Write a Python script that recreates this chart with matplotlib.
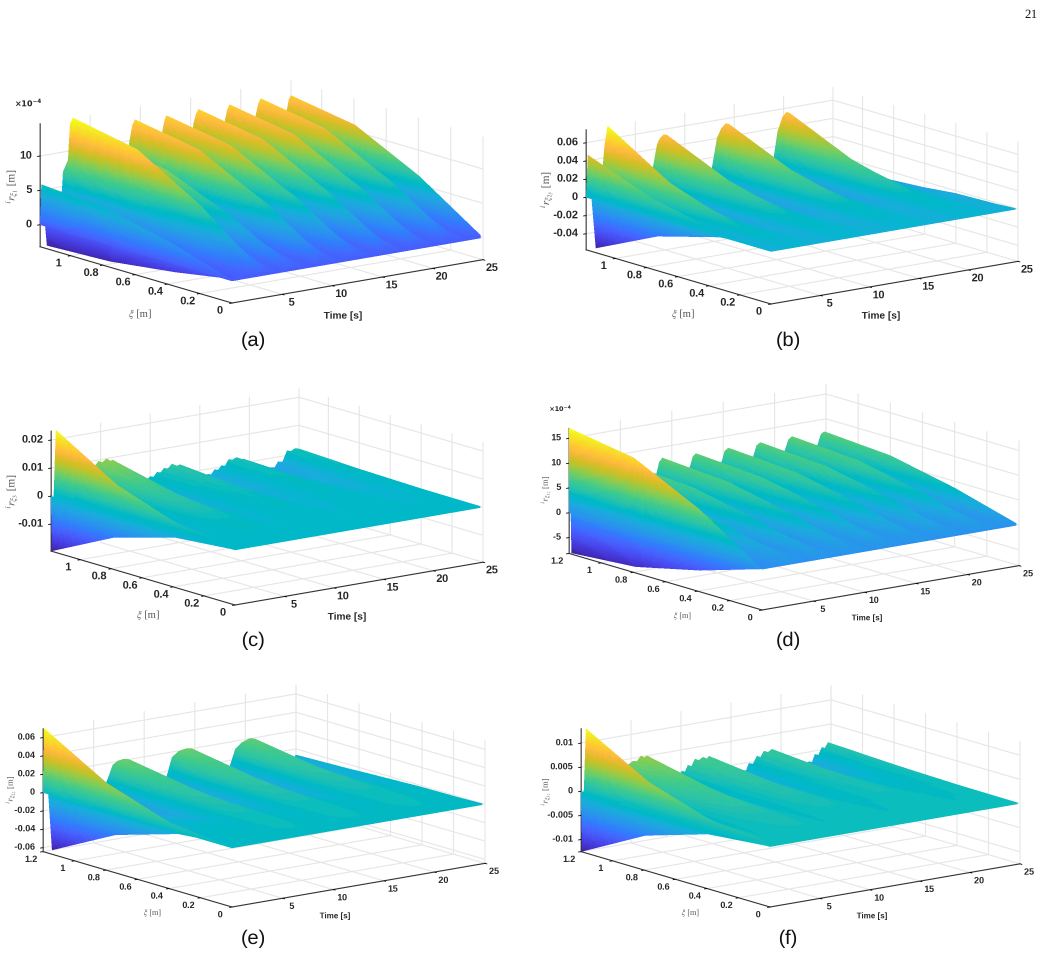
import numpy as np
import matplotlib
matplotlib.use("Agg")
import matplotlib.pyplot as plt
from matplotlib.colors import ListedColormap
from mpl_toolkits.mplot3d import proj3d

W, H = 1042, 965
OVERSAMPLE = 3
plt.rcParams["font.family"] = ["Liberation Sans", "DejaVu Sans"]
plt.rcParams["mathtext.fontset"] = "stix"

PARULA = ListedColormap([
    (0.2422, 0.1504, 0.6603), (0.2504, 0.1650, 0.7076), (0.2578, 0.1818, 0.7511), (0.2647, 0.1978, 0.7952),
    (0.2706, 0.2147, 0.8364), (0.2751, 0.2342, 0.8710), (0.2783, 0.2559, 0.8991), (0.2803, 0.2782, 0.9221),
    (0.2813, 0.3006, 0.9414), (0.2810, 0.3228, 0.9579), (0.2795, 0.3447, 0.9717), (0.2760, 0.3667, 0.9829),
    (0.2699, 0.3892, 0.9906), (0.2602, 0.4123, 0.9952), (0.2440, 0.4358, 0.9988), (0.2206, 0.4603, 0.9973),
    (0.1963, 0.4847, 0.9892), (0.1834, 0.5074, 0.9798), (0.1786, 0.5289, 0.9682), (0.1764, 0.5499, 0.9520),
    (0.1687, 0.5703, 0.9359), (0.1540, 0.5902, 0.9218), (0.1460, 0.6091, 0.9079), (0.1380, 0.6276, 0.8973),
    (0.1248, 0.6459, 0.8883), (0.1113, 0.6635, 0.8763), (0.0952, 0.6798, 0.8598), (0.0689, 0.6948, 0.8394),
    (0.0297, 0.7082, 0.8163), (0.0036, 0.7203, 0.7917), (0.0067, 0.7312, 0.7660), (0.0433, 0.7411, 0.7394),
    (0.0964, 0.7500, 0.7120), (0.1408, 0.7584, 0.6842), (0.1717, 0.7670, 0.6554), (0.1938, 0.7758, 0.6251),
    (0.2161, 0.7843, 0.5923), (0.2470, 0.7918, 0.5567), (0.2906, 0.7973, 0.5188), (0.3406, 0.8008, 0.4789),
    (0.3909, 0.8029, 0.4354), (0.4456, 0.8024, 0.3909), (0.5044, 0.7993, 0.3480), (0.5616, 0.7942, 0.3045),
    (0.6174, 0.7876, 0.2612), (0.6720, 0.7793, 0.2227), (0.7242, 0.7698, 0.1910), (0.7738, 0.7598, 0.1646),
    (0.8203, 0.7498, 0.1535), (0.8634, 0.7406, 0.1596), (0.9035, 0.7330, 0.1774), (0.9393, 0.7288, 0.2100),
    (0.9728, 0.7298, 0.2394), (0.9956, 0.7434, 0.2371), (0.9970, 0.7659, 0.2199), (0.9952, 0.7861, 0.1967),
    (0.9892, 0.8136, 0.1816), (0.9786, 0.8386, 0.1717), (0.9676, 0.8639, 0.1642), (0.9610, 0.8890, 0.1537),
    (0.9597, 0.9135, 0.1423), (0.9628, 0.9373, 0.1265), (0.9691, 0.9606, 0.1064), (0.9769, 0.9839, 0.0805)],
    name="parula")

# Tip deflection against time for each panel (panels a and d in units of 1e-4 m)
time_a = [0, .15, .7, 1.5, 2.2, 2.3, 2.8, 3.0, 3.3, 5.2, 5.7, 6.2, 8.2, 8.9, 9.2, 9.46, 9.8, 11.4, 12.2, 12.4, 12.6, 12.9,
          14.6, 15.3, 15.55, 15.8, 16.1, 17.7, 18.4, 18.65, 18.9, 19.2, 20.8, 21.5, 21.75, 22.0, 22.3, 23.9, 24.6, 24.8, 25]
tip_a = [0, 5.8, -3.2, 0, 4.4, 7.1, 8.7, 13.9, 14.7, 1, 8, 10.5, 1, 9.7, 12.1, 12.9, 12.2, 1, 10.5, 12, 12.7, 12,
         1, 10.9, 12.2, 12.8, 12.1, 1, 10.3, 12, 12.7, 12, 1, 10.5, 12.1, 12.8, 12.1, 1, 10.5, 12, 12.5]

time_b = [0, .2, 1.0, 1.7, 1.9, 2.2, 5.8, 6.8, 7.2, 7.5, 7.9, 8.2, 11.8, 12.75, 13.26, 13.7, 14.17, 14.5,
          18.1, 19, 19.4, 19.9, 20.3, 20.6, 24, 25]
tip_b = [0, .046, -.0576, .030, .0546, .0743, -.04, .021, .0446, .051, .0542, .053, -.04, .0079, .04, .050, .0547, .053,
         -.04, .0073, .036, .051, .0556, .054, -.03, -.02]

time_c = [0, .1, .5, 2, 3.5, 4.2, 4.8, 5.2, 5.6, 5.9, 6.2, 8.5, 10, 10.35, 10.7, 11.05, 11.4, 11.8, 12.2, 12.6, 13,
          15, 15.8, 16.15, 16.5, 16.85, 17.2, 17.55, 17.9, 18.3, 18.7, 19.05, 19.4,
          21.4, 22.2, 22.55, 22.9, 23.35, 23.8, 24.2, 24.6, 25]
tip_c = [0, -.0196, .0232, -.004, .002, .007, .0095, .0088, .0099, .0085, .0091, -.004,
         .0009, .0005, .002, .0016, .003, .0026, .004, .0028, .0033,
         -.004, -.0018, -.0022, -.0006, -.001, .0004, .0, .0021, .0018, .0024, .0012, .0014,
         -.004, -.0033, -.0036, -.0017, -.002, .0017, .0012, .002, .0016]

time_d = [0, .03, .25, 1.5, 2.6, 3.0, 5.0, 5.6, 6.0, 8.0, 8.53, 8.79, 9.1, 9.4, 11.2, 11.77, 12.05, 12.35, 12.65,
          14.3, 14.85, 15.15, 15.5, 15.8, 17.3, 17.9, 18.25, 18.6, 18.9, 20.4, 21, 21.35, 21.7, 22, 23.6, 24.15, 24.5, 24.8, 25]
tip_d = [0, 17, -8.2, -2, 5, 7.5, 0, 5, 7.5, 0, 4.9, 7.1, 7.8, 7.4, 0, 5, 7, 7.5, 7.2,
         0, 4.9, 7, 7.5, 7.2, 0, 4.7, 7, 7.5, 7.2, 0, 5, 7.1, 7.6, 7.3, 0, 4.8, 7, 7.45, 7.3]

time_e = [0, .1, .9, 3, 5.4, 6.3, 6.9, 7.4, 8, 8.5, 11.2, 12.15, 12.75, 13.4, 14.2, 14.7, 17.4, 18.4, 19, 19.7, 20.4, 20.9, 24, 25]
tip_e = [0, .0698, -.0643, -.02, -.03, -.0003, .017, .0205, .0214, .020, -.03, -.0087, .0142, .0195, .0212, .020,
         -.03, -.0087, .011, .0175, .020, .019, -.02, -.0065]

time_f = [0, .1, .5, 2, 3.5, 4.5, 5.2, 5.6, 6.0, 6.3, 6.6, 9, 10.1, 10.4, 10.7, 11.05, 11.4, 11.8, 12.2, 12.5, 12.8,
          15.2, 16.2, 16.5, 16.8, 17.2, 17.6, 17.95, 18.3, 18.7, 19.1,
          21.8, 22.8, 23.1, 23.4, 23.75, 24.1, 24.4, 24.7, 25]
tip_f = [0, -.0125, .0128, -.003, .001, .0035, .0044, .0042, .0052, .0046, .005, -.003,
         .0006, .0003, .0016, .0012, .0026, .0022, .0027, .002, .0027,
         -.003, -.0014, -.0017, -.0002, -.0005, .001, .0006, .0018, .0014, .0019,
         -.003, -.002, -.0023, -.0007, -.001, .0005, .0002, .0013, .001]

# Fraction of the tip deflection reached at each element node along the beam
shape_stiff = [0, .50, .875, 1]
shape_soft = [0, .10, .43, 1]

# Tick values and labels
time_ticks = [5, 10, 15, 20, 25]
xi_ticks_short = [0, .2, .4, .6, .8, 1]
xi_ticks_long = [0, .2, .4, .6, .8, 1, 1.2]
xi_labels_long = ["0", "0.2", "0.4", "0.6", "0.8", "1", "1.2"]

panels = [
    dict(tag="(a)", t=time_a, q=tip_a, shape=shape_stiff, ximax=1.19, zlim=(-3.2, 14.7), end=None,
         zticks=[0, 5, 10], zlabels=["0", "5", "10"], xiticks=xi_ticks_short, xilabels=xi_labels_long[:6],
         corners=((40, 247), (232, 303), (483, 260), 123), fs=7.9, fs_t=7.3, fs_xi=7.6, fs_z=8.2,
         zlab=r"${}^{i}r_{\xi_{1}}$ [m]", zpos=(12, 187), xipos=(140, 314), tpos=(343, 316), tagpos=(253, 341),
         exp=(28, 104), fs_exp=5.7),
    dict(tag="(b)", t=time_b, q=tip_b, shape=shape_soft, ximax=1.19, zlim=(-.0576, .0743), end=-.013,
         zticks=[-.04, -.02, 0, .02, .04, .06], zlabels=["-0.04", "-0.02", "0", "0.02", "0.04", "0.06"],
         xiticks=xi_ticks_short, xilabels=xi_labels_long[:6],
         corners=((586, 248), (771, 304), (1018, 262), 120), fs=7.9, fs_t=7.3, fs_xi=7.6, fs_z=8.2,
         zlab=r"${}^{i}r_{\xi_{2y}}$ [m]", zpos=(547, 190), xipos=(683, 314), tpos=(881, 316), tagpos=(788, 341),
         exp=None),
    dict(tag="(c)", t=time_c, q=tip_c, shape=shape_soft, ximax=1.19, zlim=(-.0196, .0232), end=None,
         zticks=[-.01, 0, .01, .02], zlabels=["-0.01", "0", "0.01", "0.02"],
         xiticks=xi_ticks_short, xilabels=xi_labels_long[:6],
         corners=((51, 549), (235, 605), (483, 562), 120), fs=7.9, fs_t=7.3, fs_xi=7.6, fs_z=8.2,
         zlab=r"${}^{i}r_{\xi_{3}}$ [m]", zpos=(12, 492), xipos=(148, 615), tpos=(347, 617), tagpos=(253, 641),
         exp=None),
    dict(tag="(d)", t=time_d, q=tip_d, shape=shape_stiff, ximax=1.2, zlim=(-8.2, 17), end=None,
         zticks=[-5, 0, 5, 10, 15], zlabels=["-5", "0", "5", "10", "15"],
         xiticks=xi_ticks_long, xilabels=xi_labels_long,
         corners=((569, 552), (762, 610), (1019, 564), 125), fs=6.5, fs_t=5.8, fs_xi=5.9, fs_z=6.2,
         zlab=r"${}^{i}r_{\xi_{1z}}$ [m]", zpos=(546, 490), xipos=(682, 616), tpos=(867, 618), tagpos=(788, 641),
         exp=(560, 409), fs_exp=4.7),
    dict(tag="(e)", t=time_e, q=tip_e, shape=shape_soft, ximax=1.2, zlim=(-.0643, .0698), end=-.0065,
         zticks=[-.06, -.04, -.02, 0, .02, .04, .06],
         zlabels=["-0.06", "-0.04", "-0.02", "0", "0.02", "0.04", "0.06"],
         xiticks=xi_ticks_long, xilabels=xi_labels_long,
         corners=((43, 850), (232, 907), (485, 862), 123), fs=6.5, fs_t=5.8, fs_xi=5.9, fs_z=6.2,
         zlab=r"${}^{i}r_{\xi_{2z}}$ [m]", zpos=(11, 790), xipos=(152, 913), tpos=(335, 916), tagpos=(253, 939),
         exp=None),
    dict(tag="(f)", t=time_f, q=tip_f, shape=shape_soft, ximax=1.2, zlim=(-.0125, .013), end=None,
         zticks=[-.01, -.005, 0, .005, .01], zlabels=["-0.01", "-0.005", "0", "0.005", "0.01"],
         xiticks=xi_ticks_long, xilabels=xi_labels_long,
         corners=((581, 851), (770, 907), (1020, 863), 123), fs=6.5, fs_t=5.8, fs_xi=5.9, fs_z=6.2,
         zlab=r"${}^{i}r_{\xi_{3z}}$ [m]", zpos=(546, 792), xipos=(690, 913), tpos=(872, 916), tagpos=(788, 939),
         exp=None),
]

ELEV, AZIM = 13, -127.5
GRID = (0.9, 0.9, 0.9, 1)
INK = (0.2, 0.2, 0.2, 1)
LABEL_GREY = "#555555"


def mesh_for(p):
    """Subdivide the read curve so the z-coloured faces vary smoothly."""
    t = np.asarray(p["t"], float)
    q = np.asarray(p["q"], float)
    span = p["zlim"][1] - p["zlim"][0]
    cols = [t[:1]]
    for i in range(len(t) - 1):
        n = int(np.ceil(abs(q[i + 1] - q[i]) / span * 50)) + 2
        cols.append(np.linspace(t[i], t[i + 1], n + 1)[1:])
    t_mesh = np.concatenate(cols)
    q_mesh = np.interp(t_mesh, t, q)
    nodes = np.linspace(0, p["ximax"], len(p["shape"]))
    xi_mesh = np.linspace(0, p["ximax"], 73)
    s = np.interp(xi_mesh, nodes, p["shape"])
    z = np.outer(s, q_mesh)
    if p["end"] is not None:
        z[:, -1] = p["end"] * xi_mesh / p["ximax"]
    T, XI = np.meshgrid(t_mesh, xi_mesh)
    # far corner first, so the faces can be painted in grid order
    return T[::-1, ::-1], XI[::-1, ::-1], z[::-1, ::-1]


def place(ax, p):
    """Size the 3-D box and move the axes so the floor corners land where wanted."""
    left, front, right, zh = p["corners"]
    ca, sa = np.cos(np.radians(37.5)), np.sin(np.radians(37.5))
    box = ((right[0] - front[0]) / ca, (front[0] - left[0]) / sa, zh / np.cos(np.radians(ELEV)))
    ax.set_box_aspect(box)
    M = ax.get_proj()
    z0 = p["zlim"][0]
    x_f, y_f, _ = proj3d.proj_transform(0, 0, z0, M)
    x_r, _, _ = proj3d.proj_transform(25, 0, z0, M)
    x0, x1 = ax.viewLim.intervalx
    y0, y1 = ax.viewLim.intervaly
    S = (right[0] - front[0]) / ((x_r - x_f) / (x1 - x0))
    px_left = front[0] - (x_f - x0) / (x1 - x0) * S
    px_bottom = (H - front[1]) - (y_f - y0) / (y1 - y0) * S
    ax.set_position([px_left / W, px_bottom / H, S / W, S / H])


fig = plt.figure(figsize=(W / 100, H / 100), dpi=100, facecolor="white")

for p in panels:
    ax = fig.add_axes([0, 0, 1, 1], projection="3d", proj_type="ortho")
    ax.patch.set_alpha(0)
    ax.view_init(elev=ELEV, azim=AZIM)
    ax.set_xlim(0, 25, view_margin=0)
    ax.set_ylim(0, p["ximax"], view_margin=0)
    ax.set_zlim(*p["zlim"], view_margin=0)
    place(ax, p)

    T, XI, Z = mesh_for(p)
    surf = ax.plot_surface(T, XI, Z, cmap=PARULA, vmin=p["zlim"][0], vmax=p["zlim"][1],
                           rstride=1, cstride=1, linewidth=0, antialiased=False, shade=False)
    # A height field seen from one corner is painted correctly far to near in grid order;
    # equal sort keys keep the order the faces were built in.
    surf._zsortfunc = lambda zs: 0.0

    ax.set_xticks(time_ticks, [str(v) for v in time_ticks])
    ax.set_yticks(p["xiticks"], p["xilabels"])
    ax.set_zticks(p["zticks"], p["zlabels"])
    for axis in (ax.xaxis, ax.yaxis, ax.zaxis):
        axis.set_pane_color((1, 1, 1, 0))
        axis.line.set_color(INK)
        axis.line.set_linewidth(0.8)
        axis._axinfo["grid"].update(color=GRID, linewidth=0.8)
        axis._axinfo["tick"].update(inward_factor=0.12, outward_factor=0.0, linewidth={True: 0.6, False: 0.5})
        axis._axinfo["tick"]["color"] = INK
    ax.zaxis.set_ticks_position("upper")
    ax.tick_params(axis="both", labelsize=p["fs"], labelcolor="#262626", pad=0)
    ax.tick_params(axis="z", labelsize=p["fs"], labelcolor="#262626", pad=-5)
    for lab in ax.get_xticklabels() + ax.get_yticklabels() + ax.get_zticklabels():
        lab.set_fontweight("bold")
        lab.set_va("center")
    for lab in ax.get_zticklabels():
        lab.set_ha("right")

    fig.text(p["tpos"][0] / W, 1 - p["tpos"][1] / H, "Time [s]", ha="center", va="center",
             fontsize=p["fs_t"], fontweight="bold", color="#262626")
    fig.text(p["xipos"][0] / W, 1 - p["xipos"][1] / H, r"$\xi$ [m]", ha="center", va="center",
             fontsize=p["fs_xi"], color=LABEL_GREY, family="Liberation Serif")
    fig.text(p["zpos"][0] / W, 1 - p["zpos"][1] / H, p["zlab"], ha="center", va="center", rotation=90,
             fontsize=p["fs_z"], color=LABEL_GREY, family="Liberation Serif")
    fig.text(p["tagpos"][0] / W, 1 - p["tagpos"][1] / H, p["tag"], ha="center", va="center", fontsize=14.5,
             color="#111111")
    if p["exp"]:
        fig.text(p["exp"][0] / W, 1 - p["exp"][1] / H, r"$\mathbf{\times 10^{-4}}$", ha="center", va="center",
                 fontsize=p["fs_exp"], color="#262626", math_fontfamily="dejavusans")

fig.text(1031 / W, 1 - 15 / H, "21", ha="center", va="center", fontsize=9, family="Liberation Serif", color="#111111")

# Render large, then average blocks down to the final pixel size for clean surface edges
fig.savefig("out.png", dpi=100 * OVERSAMPLE)
big = plt.imread("out.png")[..., :3]
rows, cols = H * OVERSAMPLE, W * OVERSAMPLE
small = big[:rows, :cols].reshape(H, OVERSAMPLE, W, OVERSAMPLE, 3).mean(axis=(1, 3))
plt.imsave("out.png", small)
